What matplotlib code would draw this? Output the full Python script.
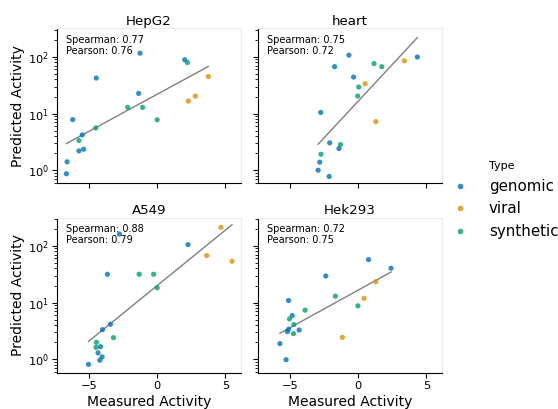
import numpy as np
import matplotlib
matplotlib.use("Agg")
import matplotlib.pyplot as plt
from matplotlib.lines import Line2D

# === Data ===
cells = ["HepG2", "heart", "A549", "Hek293"]

hepg2_x = [-1.26, 2.02, 2.22, 3.75, -4.47, -1.36, 2.80, 2.29, -2.16, -1.07,
           -6.2, 0.0, -4.5, -5.5, -5.74, -5.74, -5.4, -6.61, -6.66]
hepg2_y = [116, 88.6, 79.5, 45, 42.3, 22.7, 20.4, 16.7, 12.9, 12.9,
           7.85, 7.8, 5.6, 4.23, 3.36, 2.21, 2.37, 1.42, 0.875]
hepg2_t = ["genomic", "genomic", "synthetic", "viral", "genomic", "genomic", "viral",
           "viral", "synthetic", "synthetic", "genomic", "synthetic", "synthetic",
           "genomic", "synthetic", "genomic", "genomic", "genomic", "genomic"]

heart_x = [-0.68, 3.39, 1.16, 1.73, -1.73, -0.34, 0.51, 0.04, -0.04, -2.75,
           1.3, -2.09, -1.3, -1.41, -2.73, -2.82, -2.94, -2.13, 4.34]
heart_y = [107, 84.7, 76, 67, 67, 44, 33.6, 29.4, 20.4, 10.5,
           7.24, 3.06, 2.86, 2.43, 1.93, 1.40, 1.01, 0.785, 99]
heart_t = ["genomic", "viral", "synthetic", "synthetic", "genomic", "genomic", "viral",
           "synthetic", "synthetic", "genomic", "viral", "genomic", "synthetic",
           "genomic", "synthetic", "genomic", "genomic", "genomic", "genomic"]

a549_x = [4.68, -2.77, 2.26, 3.63, 5.49, -3.65, -1.32, -0.26, 0.0, -3.43,
          -4.01, -3.21, -4.46, -4.49, -4.16, -4.34, -4.04, -4.21, -5.04]
a549_y = [211, 161, 105, 67.5, 53.6, 31.6, 31.6, 31.6, 18.3, 4.16,
          3.35, 2.42, 2.0, 1.63, 1.68, 1.31, 1.11, 0.97, 0.82]
a549_t = ["viral", "genomic", "genomic", "viral", "viral", "genomic", "synthetic",
          "synthetic", "synthetic", "genomic", "genomic", "synthetic", "synthetic",
          "synthetic", "genomic", "genomic", "genomic", "genomic", "genomic"]

hek293_x = [0.76, 2.41, 1.30, -2.38, -1.67, 0.43, -0.02, -5.11, -3.9, -4.84,
            -5.04, -4.72, -4.33, -5.11, -5.2, -4.75, -1.16, -5.74, -5.29]
hek293_y = [57.2, 40.3, 23.4, 29.4, 13.0, 11.9, 8.8, 10.9, 7.37, 5.93,
            5.17, 4.11, 3.30, 3.40, 3.09, 2.85, 2.45, 1.90, 0.99]
hek293_t = ["genomic", "genomic", "viral", "genomic", "synthetic", "viral", "synthetic",
            "genomic", "synthetic", "genomic", "synthetic", "synthetic", "genomic",
            "genomic", "genomic", "synthetic", "viral", "genomic", "genomic"]

spearman = ["0.77", "0.75", "0.88", "0.72"]
pearson = ["0.76", "0.72", "0.79", "0.75"]

types = ["genomic", "viral", "synthetic"]
colors = {"genomic": "#0173b2", "viral": "#de8f05", "synthetic": "#029e73"}

panels = [(hepg2_x, hepg2_y, hepg2_t), (heart_x, heart_y, heart_t),
          (a549_x, a549_y, a549_t), (hek293_x, hek293_y, hek293_t)]

# === Figure ===
fig = plt.figure(figsize=(5.58, 4.09), dpi=100)
W, H = 558, 409
boxes = [(57, 28.5), (258, 28.5), (57, 217.5), (258, 217.5)]  # left, top in px
aw, ah = 184, 155

for i, (name, (xs, ys, ts)) in enumerate(zip(cells, panels)):
    l, t = boxes[i]
    ax = fig.add_axes([l / W, 1 - (t + ah) / H, aw / W, ah / H])
    xs = np.array(xs)
    ys = np.array(ys)
    cs = [colors[k] for k in ts]
    ax.scatter(xs, ys, c=cs, s=14, alpha=0.8, linewidths=0, zorder=3)

    # least squares fit in log space
    b, a = np.polyfit(xs, np.log10(ys), 1)
    fx = np.array([xs.min(), xs.max()])
    ax.plot(fx, 10 ** (a + b * fx), color="gray", lw=1, zorder=2)

    ax.set_yscale("log")
    ax.set_xlim(-7.35, 6.15)
    ax.set_ylim(0.59, 315)
    ax.set_xticks([-5, 0, 5])
    ax.set_title(name, fontsize=9.6, pad=2.5)
    ax.text(0.05, 0.955, "Spearman: %s\nPearson: %s" % (spearman[i], pearson[i]),
            transform=ax.transAxes, fontsize=7, va="top", ha="left", linespacing=1.1)

    for s in ["top", "right"]:
        ax.spines[s].set_color("#ececec")
    ax.tick_params(which="major", length=3.5, width=0.8, labelsize=8.2, pad=2.5)
    ax.tick_params(which="minor", length=2, width=0.6)

    if i % 2 == 0:
        ax.set_ylabel("Predicted Activity", fontsize=10, labelpad=1.5)
    else:
        ax.tick_params(labelleft=False, which="both")
    if i >= 2:
        ax.set_xlabel("Measured Activity", fontsize=10, labelpad=3)
    else:
        ax.tick_params(labelbottom=False)

handles = [Line2D([], [], marker="o", ls="", markersize=4, markeredgewidth=0,
                  color=colors[k], alpha=0.8) for k in types]
leg = fig.legend(handles, types, title="Type", loc="center left",
                 bbox_to_anchor=(431 / W, 1 - 200 / H), frameon=False,
                 fontsize=10.8, title_fontsize=8, handletextpad=0.95,
                 labelspacing=0.5)

fig.savefig("out.png", dpi=100)
